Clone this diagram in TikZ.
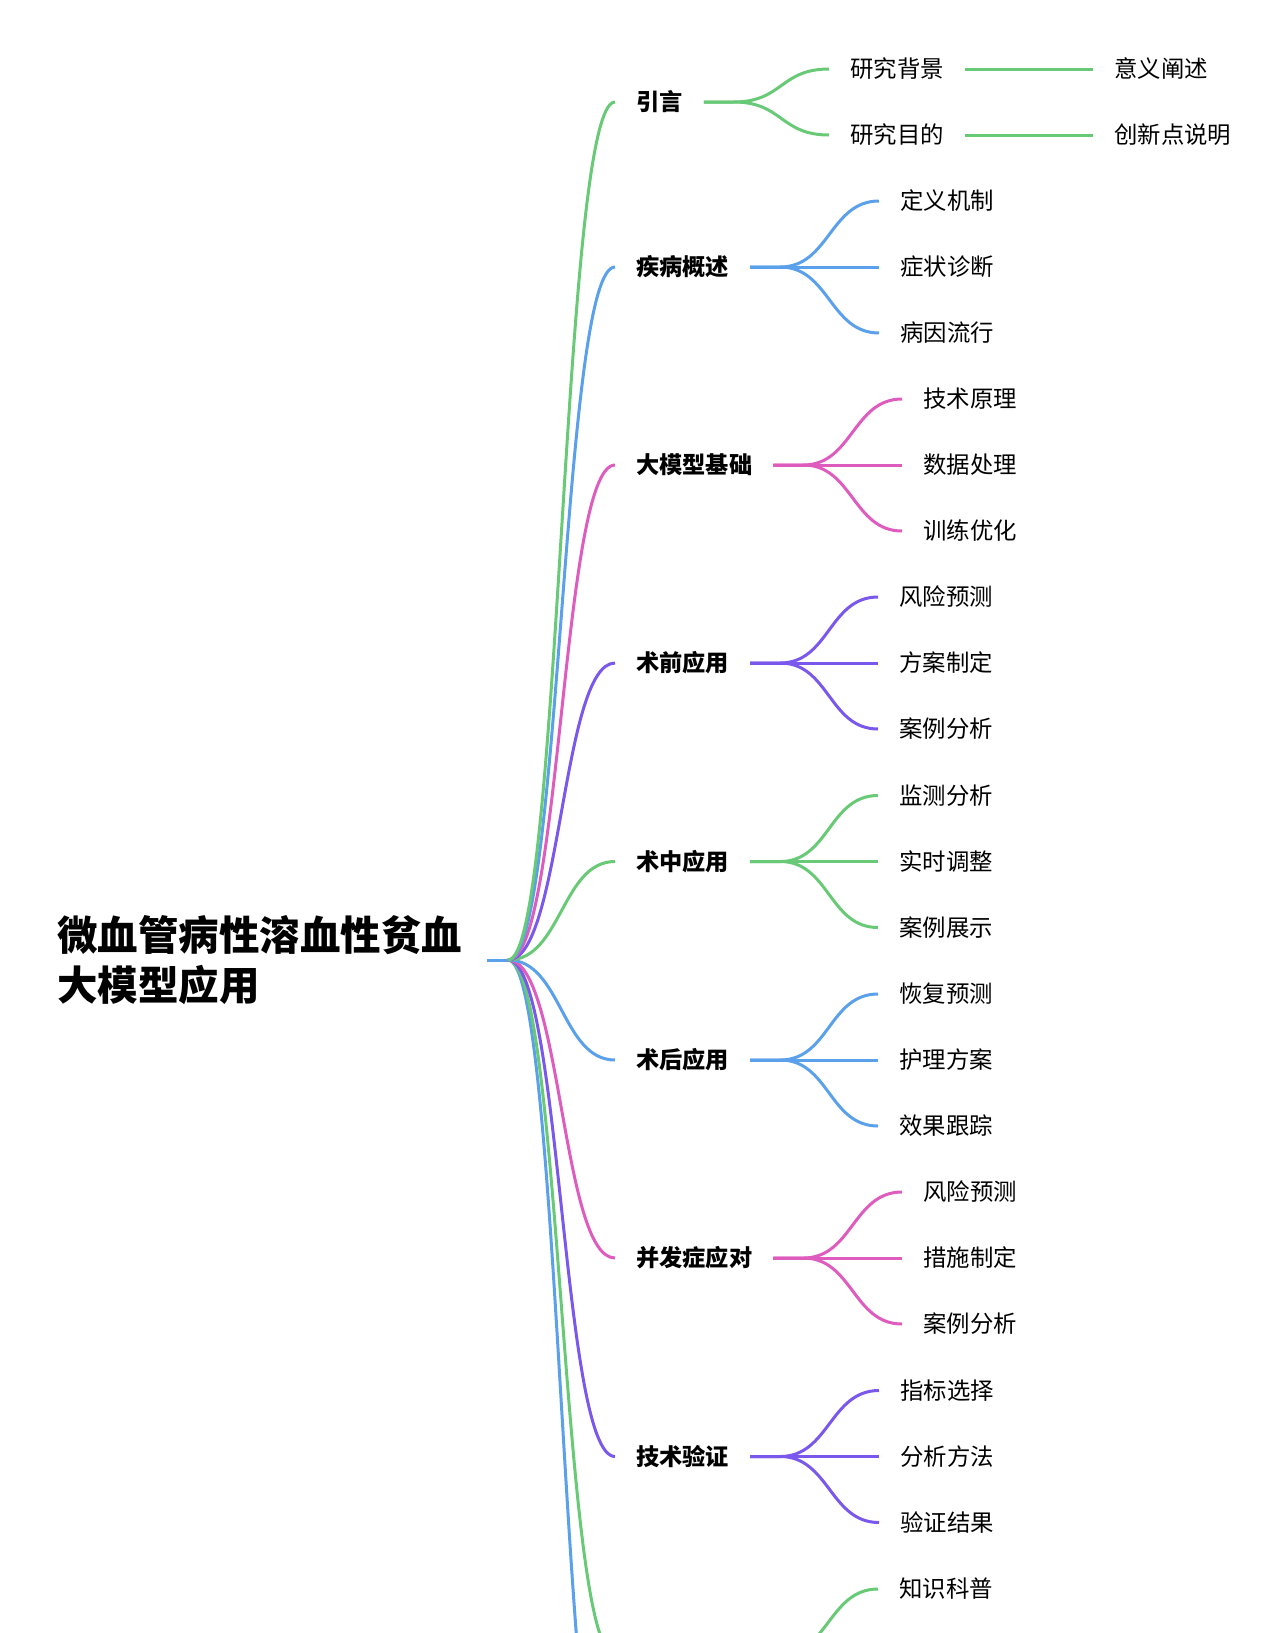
\documentclass[tikz,border=0pt]{standalone}
\usepackage{fontspec}
\setmainfont{Noto Sans CJK SC}
\definecolor{mgreen}{RGB}{104,201,118}
\definecolor{mblue}{RGB}{90,160,235}
\definecolor{mpink}{RGB}{222,92,190}
\definecolor{mpurple}{RGB}{122,88,235}
\tikzset{
  rootnode/.style={font=\fontsize{40.5}{50}\selectfont\bfseries, anchor=west, inner xsep=25pt, inner ysep=0pt, align=left},
  lone/.style={font=\fontsize{23.2}{28}\selectfont\bfseries, anchor=west, inner xsep=21pt, inner ysep=0pt},
  ltwo/.style={font=\fontsize{23.4}{28}\selectfont, anchor=west, inner xsep=21pt, inner ysep=0pt},
  lk/.style={line width=3pt},
  cg/.style={lk, draw=mgreen},
  cb/.style={lk, draw=mblue},
  cp/.style={lk, draw=mpink},
  cv/.style={lk, draw=mpurple},
  rootlink/.style={to path={.. controls +(53.5,0) and +(-53.5,0) .. (\tikztotarget)}},
  forklink/.style={to path={-- ++(30,0) .. controls +(49,0) and +(-49,0) .. (\tikztotarget)}}
}
\begin{document}
\begin{tikzpicture}[x=1pt,y=-1pt]
\useasboundingbox (0,0) rectangle (1280,1633);
\clip (0,0) rectangle (1280,1633);
% root
\node[rootnode] (root) at (32,960) {微血管病性溶血性贫血\\大模型应用};
\coordinate (rj) at (508,960);
% level 1
\node[lone] (b1) at (615,102) {引言};
\node[lone] (b2) at (615,267) {疾病概述};
\node[lone] (b3) at (615,465) {大模型基础};
\node[lone] (b4) at (615,663) {术前应用};
\node[lone] (b5) at (615,861.5) {术中应用};
\node[lone] (b6) at (615,1060) {术后应用};
\node[lone] (b7) at (615,1258) {并发症应对};
\node[lone] (b8) at (615,1456.5) {技术验证};
\coordinate (b9) at (615,1655);
\coordinate (b9e) at (749,1655);
\coordinate (b10) at (615,1853);
% level 2
\node[ltwo] (c11) at (829,69) {研究背景};
\node[ltwo] (c12) at (829,135) {研究目的};
\node[ltwo] (d11) at (1093,69) {意义阐述};
\node[ltwo] (d12) at (1093,135) {创新点说明};
\node[ltwo] (c21) at (879,201) {定义机制};
\node[ltwo] (c22) at (879,267) {症状诊断};
\node[ltwo] (c23) at (879,333) {病因流行};
\node[ltwo] (c31) at (902,399) {技术原理};
\node[ltwo] (c32) at (902,465) {数据处理};
\node[ltwo] (c33) at (902,531) {训练优化};
\node[ltwo] (c41) at (878,597) {风险预测};
\node[ltwo] (c42) at (878,663) {方案制定};
\node[ltwo] (c43) at (878,729) {案例分析};
\node[ltwo] (c51) at (878,795.5) {监测分析};
\node[ltwo] (c52) at (878,861.5) {实时调整};
\node[ltwo] (c53) at (878,927.5) {案例展示};
\node[ltwo] (c61) at (878,994) {恢复预测};
\node[ltwo] (c62) at (878,1060) {护理方案};
\node[ltwo] (c63) at (878,1126) {效果跟踪};
\node[ltwo] (c71) at (902,1192) {风险预测};
\node[ltwo] (c72) at (902,1258) {措施制定};
\node[ltwo] (c73) at (902,1324) {案例分析};
\node[ltwo] (c81) at (879,1390.5) {指标选择};
\node[ltwo] (c82) at (879,1456.5) {分析方法};
\node[ltwo] (c83) at (879,1522.5) {验证结果};
\node[ltwo] (c91) at (878,1589) {知识科普};
% root links
\draw[cb] (root.east) -- (rj);
\draw[cb] (rj) to[rootlink] (b10);
\draw[cg] (rj) to[rootlink] (b9);
\draw[cv] (rj) to[rootlink] (b8.west);
\draw[cp] (rj) to[rootlink] (b7.west);
\draw[cb] (rj) to[rootlink] (b6.west);
\draw[cg] (rj) to[rootlink] (b5.west);
\draw[cv] (rj) to[rootlink] (b4.west);
\draw[cp] (rj) to[rootlink] (b3.west);
\draw[cb] (rj) to[rootlink] (b2.west);
\draw[cg] (rj) to[rootlink] (b1.west);
% level-1 links
\draw[cg] (b1.east) to[forklink] (c11.west);
\draw[cg] (b1.east) to[forklink] (c12.west);
\draw[cg] (c11.east) -- (d11.west);
\draw[cg] (c12.east) -- (d12.west);
\draw[cb] (b2.east) to[forklink] (c21.west);
\draw[cb] (b2.east) to[forklink] (c22.west);
\draw[cb] (b2.east) to[forklink] (c23.west);
\draw[cp] (b3.east) to[forklink] (c31.west);
\draw[cp] (b3.east) to[forklink] (c32.west);
\draw[cp] (b3.east) to[forklink] (c33.west);
\draw[cv] (b4.east) to[forklink] (c41.west);
\draw[cv] (b4.east) to[forklink] (c42.west);
\draw[cv] (b4.east) to[forklink] (c43.west);
\draw[cg] (b5.east) to[forklink] (c51.west);
\draw[cg] (b5.east) to[forklink] (c52.west);
\draw[cg] (b5.east) to[forklink] (c53.west);
\draw[cb] (b6.east) to[forklink] (c61.west);
\draw[cb] (b6.east) to[forklink] (c62.west);
\draw[cb] (b6.east) to[forklink] (c63.west);
\draw[cp] (b7.east) to[forklink] (c71.west);
\draw[cp] (b7.east) to[forklink] (c72.west);
\draw[cp] (b7.east) to[forklink] (c73.west);
\draw[cv] (b8.east) to[forklink] (c81.west);
\draw[cv] (b8.east) to[forklink] (c82.west);
\draw[cv] (b8.east) to[forklink] (c83.west);
\draw[cg] (b9e) to[forklink] (c91.west);
\end{tikzpicture}
\end{document}
